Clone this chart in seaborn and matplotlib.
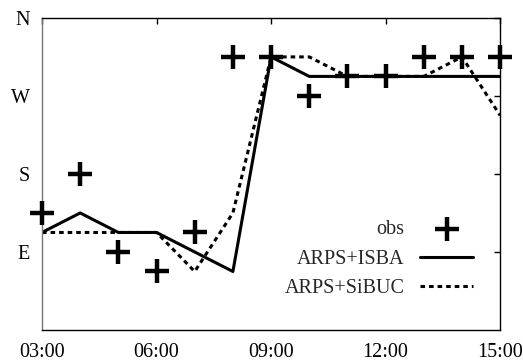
import matplotlib
matplotlib.use("Agg")
import matplotlib.pyplot as plt
import seaborn as sns
import pandas as pd

hours = [3, 4, 5, 6, 7, 8, 9, 10, 11, 12, 13, 14, 15]
obs = [135, 180, 90, 67.5, 112.5, 315, 315, 270, 292.5, 292.5, 315, 315, 315]
isba = [112.5, 135, 112.5, 112.5, 90, 67.5, 315, 292.5, 292.5, 292.5, 292.5, 292.5, 292.5]
sibuc = [112.5, 112.5, 112.5, 112.5, 67.5, 135, 315, 315, 292.5, 292.5, 292.5, 315, 247.5]

xticks = [3, 6, 9, 12, 15]
xticklabels = ["03:00", "06:00", "09:00", "12:00", "15:00"]
yticks = [90, 180, 270, 360]
yticklabels = ["E", "S", "W", "N"]

sns.set_theme(style="white")
plt.rcParams['font.family'] = ['Liberation Serif', 'DejaVu Serif']
FS = 14.5
plt.rcParams['font.size'] = FS

fig = plt.figure(figsize=(5.23, 3.6), dpi=100)
ax = fig.add_axes([0.0803, 0.0833, 0.876, 0.867])

sns.lineplot(x=hours, y=isba, color="black", lw=2.2, ax=ax, label="ARPS+ISBA")
sns.lineplot(x=hours, y=sibuc, color="black", lw=2.2, ax=ax, label="ARPS+SiBUC",
             linestyle=(0, (1.5, 1.3)))
sns.scatterplot(x=hours, y=obs, marker="+", s=280, linewidth=3.2, color="black",
                ax=ax, label="obs", zorder=5, clip_on=False)

ax.set_xlim(3, 15)
ax.set_ylim(0, 360)
ax.set_xticks(xticks)
ax.set_xticklabels(xticklabels)
ax.set_yticks(yticks)
ax.set_yticklabels(yticklabels)
ax.tick_params(direction="in", length=4, width=1, top=True, right=True,
               labelsize=FS, colors="black")
ax.tick_params(axis="x", pad=9)
ax.tick_params(axis="y", pad=9)
for s in ax.spines.values():
    s.set_color("black")
    s.set_linewidth(1.0)
ax.spines["left"].set_color("#777777")

h, l = ax.get_legend_handles_labels()
order = [l.index("obs"), l.index("ARPS+ISBA"), l.index("ARPS+SiBUC")]
leg = ax.legend([h[i] for i in order], [l[i] for i in order], frameon=False,
                markerfirst=False, loc="lower right", bbox_to_anchor=(0.98, 0.043),
                fontsize=FS, handlelength=2.6, labelspacing=0.52, handletextpad=0.8)
for t in leg.get_texts():
    t.set_ha("right")

fig.savefig("out.png", dpi=100)
